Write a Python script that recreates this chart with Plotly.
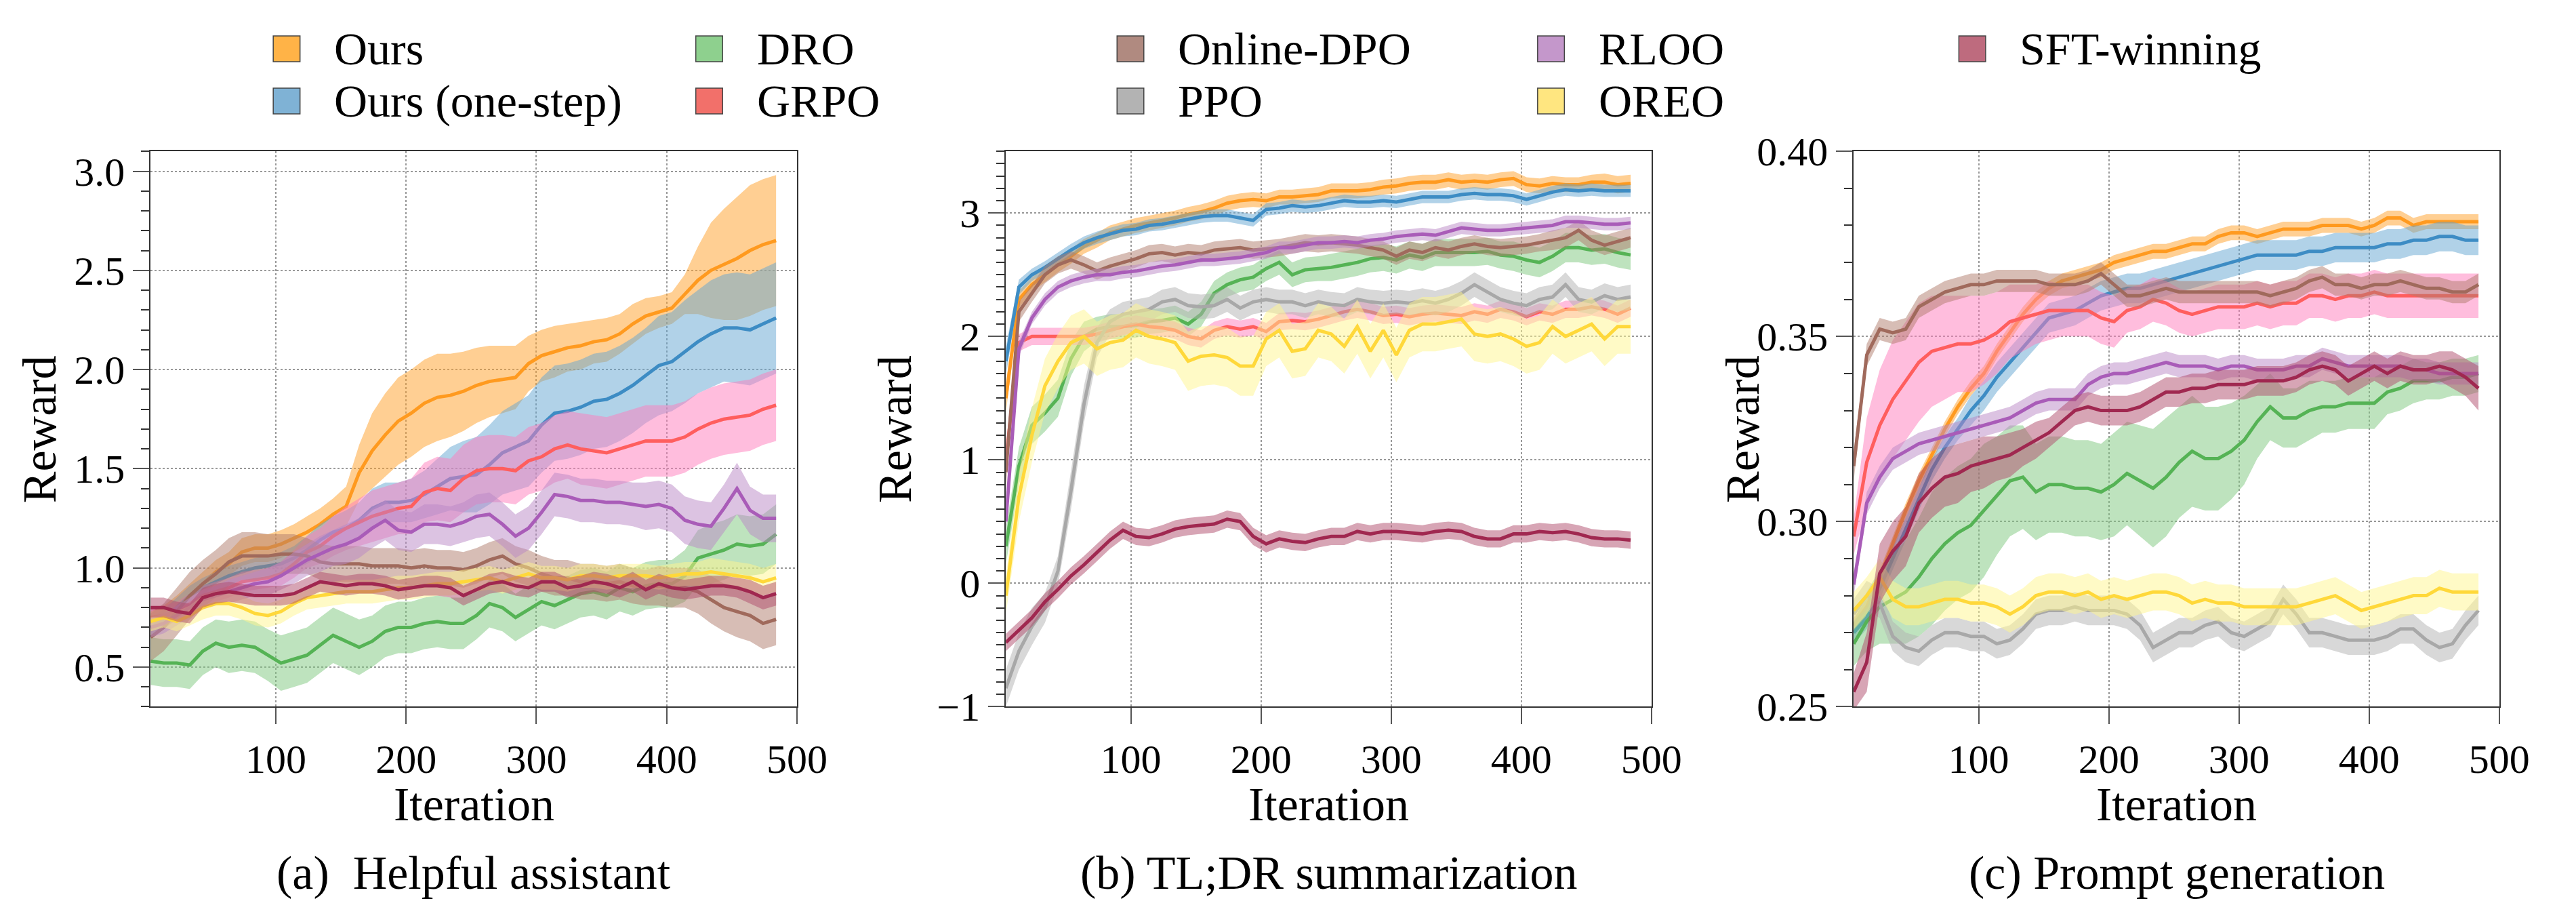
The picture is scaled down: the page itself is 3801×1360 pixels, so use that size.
import plotly.graph_objects as go

# ---------------- data ----------------
ITER = [4, 14, 24, 34, 44, 54, 64, 74, 84, 94,
        104, 114, 124, 134, 144, 154, 164, 174, 184, 194,
        204, 214, 224, 234, 244, 254, 264, 274, 284, 294,
        304, 314, 324, 334, 344, 354, 364, 374, 384, 394,
        404, 414, 424, 434, 444, 454, 464, 474, 484]

SERIES = ["Ours", "Ours (one-step)", "DRO", "GRPO", "Online-DPO", "PPO", "RLOO", "OREO", "SFT-winning"]

# ---- (a) Helpful assistant ----
A_OURS = [0.72, 0.75, 0.80, 0.86, 0.92, 0.98, 1.02, 1.08, 1.10, 1.10,
          1.12, 1.15, 1.18, 1.22, 1.27, 1.31, 1.48, 1.59, 1.67, 1.74,
          1.78, 1.83, 1.86, 1.87, 1.89, 1.92, 1.94, 1.95, 1.96, 2.03,
          2.07, 2.09, 2.11, 2.12, 2.14, 2.15, 2.18, 2.23, 2.27, 2.29,
          2.31, 2.38, 2.45, 2.50, 2.53, 2.56, 2.60, 2.63, 2.65]
A_OURS_SD = [0.06, 0.06, 0.06, 0.06, 0.06, 0.06, 0.06, 0.07, 0.07, 0.07,
             0.07, 0.07, 0.08, 0.08, 0.08, 0.10, 0.14, 0.19, 0.21, 0.22,
             0.22, 0.22, 0.22, 0.21, 0.20, 0.19, 0.18, 0.17, 0.16, 0.14,
             0.13, 0.13, 0.12, 0.12, 0.11, 0.11, 0.10, 0.10, 0.09, 0.08,
             0.08, 0.10, 0.17, 0.24, 0.28, 0.31, 0.33, 0.33, 0.33]
A_ONE = [0.70, 0.74, 0.80, 0.86, 0.90, 0.93, 0.96, 0.98, 1.00, 1.01,
         1.02, 1.05, 1.09, 1.14, 1.18, 1.20, 1.24, 1.30, 1.33, 1.33,
         1.34, 1.37, 1.41, 1.45, 1.46, 1.47, 1.52, 1.58, 1.61, 1.64,
         1.72, 1.78, 1.79, 1.81, 1.84, 1.85, 1.88, 1.92, 1.97, 2.02,
         2.04, 2.09, 2.14, 2.18, 2.21, 2.21, 2.20, 2.23, 2.26]
A_ONE_SD = [0.05, 0.05, 0.05, 0.05, 0.05, 0.05, 0.05, 0.05, 0.05, 0.05,
            0.06, 0.06, 0.07, 0.08, 0.08, 0.09, 0.09, 0.10, 0.10, 0.10,
            0.11, 0.12, 0.14, 0.16, 0.18, 0.19, 0.20, 0.21, 0.22, 0.23,
            0.24, 0.24, 0.24, 0.24, 0.24, 0.24, 0.24, 0.24, 0.24, 0.25,
            0.25, 0.26, 0.26, 0.27, 0.27, 0.28, 0.28, 0.28, 0.28]
A_DRO = [0.53, 0.52, 0.52, 0.51, 0.58, 0.62, 0.60, 0.61, 0.60, 0.56,
         0.52, 0.54, 0.56, 0.61, 0.66, 0.63, 0.60, 0.63, 0.68, 0.70,
         0.70, 0.72, 0.73, 0.72, 0.72, 0.76, 0.82, 0.80, 0.75, 0.79,
         0.83, 0.81, 0.84, 0.87, 0.88, 0.86, 0.90, 0.88, 0.91, 0.92,
         0.92, 0.96, 1.05, 1.07, 1.09, 1.12, 1.11, 1.12, 1.17]
A_DRO_SD = [0.12, 0.12, 0.12, 0.12, 0.12, 0.12, 0.13, 0.13, 0.13, 0.13,
            0.14, 0.14, 0.14, 0.14, 0.14, 0.14, 0.14, 0.13, 0.13, 0.13,
            0.13, 0.13, 0.13, 0.13, 0.13, 0.12, 0.12, 0.12, 0.12, 0.12,
            0.12, 0.12, 0.12, 0.12, 0.12, 0.12, 0.12, 0.12, 0.12, 0.12,
            0.12, 0.13, 0.14, 0.15, 0.15, 0.15, 0.15, 0.15, 0.15]
A_GRPO = [0.75, 0.76, 0.78, 0.82, 0.86, 0.88, 0.90, 0.93, 0.94, 0.95,
          0.97, 1.02, 1.08, 1.11, 1.16, 1.20, 1.23, 1.26, 1.28, 1.30,
          1.31, 1.38, 1.40, 1.39, 1.45, 1.49, 1.50, 1.50, 1.49, 1.54,
          1.56, 1.60, 1.62, 1.60, 1.59, 1.58, 1.60, 1.62, 1.64, 1.64,
          1.64, 1.66, 1.70, 1.73, 1.75, 1.76, 1.77, 1.80, 1.82]
A_GRPO_SD = [0.05, 0.05, 0.05, 0.05, 0.05, 0.05, 0.05, 0.05, 0.05, 0.05,
             0.06, 0.07, 0.08, 0.09, 0.10, 0.11, 0.12, 0.13, 0.13, 0.13,
             0.14, 0.15, 0.16, 0.16, 0.17, 0.17, 0.17, 0.17, 0.17, 0.17,
             0.17, 0.17, 0.17, 0.18, 0.18, 0.18, 0.18, 0.18, 0.18, 0.18,
             0.18, 0.18, 0.18, 0.18, 0.18, 0.18, 0.18, 0.18, 0.18]
A_DPO = [0.65, 0.70, 0.78, 0.86, 0.92, 0.97, 1.03, 1.06, 1.06, 1.06,
         1.07, 1.07, 1.06, 1.03, 1.02, 1.02, 1.02, 1.01, 1.01, 1.01,
         1.00, 1.01, 1.00, 1.00, 0.99, 1.01, 1.04, 1.06, 1.02, 1.00,
         0.97, 0.95, 0.95, 0.93, 0.93, 0.92, 0.93, 0.91, 0.90, 0.91,
         0.90, 0.90, 0.88, 0.84, 0.80, 0.78, 0.76, 0.72, 0.74]
A_DPO_SD = [0.12, 0.12, 0.12, 0.12, 0.12, 0.12, 0.12, 0.12, 0.12, 0.11,
            0.10, 0.10, 0.09, 0.09, 0.09, 0.09, 0.09, 0.09, 0.09, 0.09,
            0.09, 0.09, 0.09, 0.09, 0.09, 0.09, 0.09, 0.09, 0.09, 0.09,
            0.09, 0.09, 0.09, 0.09, 0.09, 0.09, 0.09, 0.09, 0.09, 0.10,
            0.10, 0.10, 0.11, 0.12, 0.12, 0.13, 0.13, 0.13, 0.13]
A_RLOO = [0.70, 0.72, 0.76, 0.80, 0.84, 0.86, 0.88, 0.90, 0.92, 0.93,
          0.96, 1.00, 1.04, 1.07, 1.10, 1.12, 1.15, 1.20, 1.24, 1.19,
          1.18, 1.22, 1.22, 1.21, 1.23, 1.26, 1.27, 1.22, 1.16, 1.20,
          1.28, 1.37, 1.36, 1.34, 1.34, 1.33, 1.33, 1.32, 1.31, 1.32,
          1.30, 1.24, 1.22, 1.21, 1.30, 1.40, 1.29, 1.25, 1.25]
A_RLOO_SD = [0.05, 0.05, 0.05, 0.05, 0.05, 0.05, 0.06, 0.06, 0.06, 0.07,
             0.07, 0.08, 0.08, 0.09, 0.09, 0.10, 0.10, 0.10, 0.10, 0.10,
             0.10, 0.10, 0.10, 0.10, 0.10, 0.11, 0.11, 0.11, 0.11, 0.11,
             0.11, 0.11, 0.11, 0.11, 0.11, 0.11, 0.11, 0.11, 0.12, 0.12,
             0.12, 0.12, 0.12, 0.12, 0.12, 0.13, 0.12, 0.12, 0.12]
A_OREO = [0.73, 0.75, 0.73, 0.76, 0.80, 0.82, 0.82, 0.80, 0.77, 0.76,
          0.78, 0.82, 0.85, 0.86, 0.87, 0.88, 0.88, 0.88, 0.89, 0.90,
          0.90, 0.91, 0.92, 0.92, 0.93, 0.94, 0.95, 0.93, 0.95, 0.97,
          0.95, 0.95, 0.94, 0.96, 0.96, 0.95, 0.96, 0.96, 0.96, 0.95,
          0.96, 0.97, 0.97, 0.98, 0.97, 0.96, 0.95, 0.93, 0.95]
A_OREO_SD = [0.05, 0.05, 0.05, 0.05, 0.06, 0.06, 0.06, 0.06, 0.06, 0.06,
             0.06, 0.06, 0.06, 0.06, 0.06, 0.06, 0.06, 0.06, 0.06, 0.06,
             0.06, 0.06, 0.06, 0.06, 0.06, 0.06, 0.06, 0.06, 0.06, 0.06,
             0.06, 0.06, 0.06, 0.06, 0.06, 0.06, 0.06, 0.06, 0.06, 0.06,
             0.06, 0.06, 0.06, 0.07, 0.07, 0.07, 0.07, 0.07, 0.07]
A_SFT = [0.80, 0.80, 0.78, 0.77, 0.85, 0.87, 0.88, 0.87, 0.86, 0.86,
         0.86, 0.87, 0.90, 0.93, 0.92, 0.91, 0.92, 0.92, 0.91, 0.89,
         0.90, 0.91, 0.91, 0.90, 0.86, 0.89, 0.92, 0.93, 0.91, 0.90,
         0.93, 0.93, 0.90, 0.91, 0.93, 0.92, 0.90, 0.93, 0.89, 0.92,
         0.90, 0.89, 0.90, 0.91, 0.91, 0.90, 0.88, 0.85, 0.87]
A_SFT_SD = [0.05, 0.05, 0.05, 0.05, 0.05, 0.05, 0.05, 0.05, 0.05, 0.05,
            0.05, 0.05, 0.05, 0.05, 0.05, 0.05, 0.05, 0.05, 0.05, 0.05,
            0.05, 0.05, 0.05, 0.05, 0.05, 0.05, 0.05, 0.05, 0.05, 0.05,
            0.05, 0.05, 0.05, 0.05, 0.05, 0.05, 0.05, 0.05, 0.05, 0.05,
            0.05, 0.05, 0.05, 0.05, 0.05, 0.05, 0.06, 0.06, 0.06]

# ---- (b) TL;DR summarization ----
B_OURS = [1.50, 2.30, 2.42, 2.50, 2.58, 2.65, 2.73, 2.78, 2.84, 2.87,
          2.90, 2.92, 2.94, 2.96, 2.99, 3.01, 3.04, 3.08, 3.10, 3.11,
          3.10, 3.13, 3.13, 3.14, 3.15, 3.18, 3.18, 3.18, 3.19, 3.21,
          3.22, 3.24, 3.25, 3.25, 3.27, 3.25, 3.26, 3.25, 3.27, 3.28,
          3.23, 3.22, 3.24, 3.23, 3.23, 3.25, 3.25, 3.23, 3.24]
B_OURS_SD = [0.12, 0.07, 0.06, 0.06, 0.06, 0.06, 0.06, 0.06, 0.06, 0.06,
             0.06, 0.06, 0.06, 0.06, 0.06, 0.06, 0.06, 0.06, 0.06, 0.06,
             0.06, 0.06, 0.06, 0.06, 0.06, 0.06, 0.06, 0.06, 0.06, 0.06,
             0.06, 0.06, 0.06, 0.06, 0.06, 0.06, 0.06, 0.06, 0.06, 0.06,
             0.06, 0.06, 0.06, 0.06, 0.06, 0.06, 0.07, 0.07, 0.07]
B_ONE = [1.80, 2.40, 2.50, 2.56, 2.63, 2.70, 2.76, 2.80, 2.83, 2.86,
         2.87, 2.90, 2.91, 2.93, 2.95, 2.97, 2.98, 2.98, 2.96, 2.94,
         3.03, 3.04, 3.06, 3.05, 3.06, 3.08, 3.10, 3.09, 3.09, 3.10,
         3.09, 3.11, 3.13, 3.13, 3.13, 3.15, 3.16, 3.15, 3.15, 3.14,
         3.11, 3.14, 3.17, 3.19, 3.18, 3.19, 3.18, 3.18, 3.18]
B_ONE_SD = [0.12, 0.06, 0.05, 0.05, 0.05, 0.05, 0.05, 0.05, 0.05, 0.05,
            0.05, 0.05, 0.05, 0.05, 0.05, 0.05, 0.05, 0.05, 0.05, 0.05,
            0.05, 0.05, 0.05, 0.05, 0.05, 0.05, 0.05, 0.05, 0.05, 0.05,
            0.05, 0.05, 0.05, 0.05, 0.05, 0.05, 0.05, 0.05, 0.05, 0.05,
            0.05, 0.05, 0.05, 0.05, 0.05, 0.05, 0.05, 0.05, 0.05]
B_DRO = [0.30, 0.95, 1.28, 1.38, 1.50, 1.82, 2.00, 2.06, 2.08, 2.08,
         2.09, 2.12, 2.13, 2.15, 2.10, 2.18, 2.35, 2.42, 2.46, 2.48,
         2.55, 2.60, 2.50, 2.54, 2.55, 2.56, 2.58, 2.60, 2.63, 2.64,
         2.62, 2.66, 2.64, 2.68, 2.68, 2.68, 2.68, 2.69, 2.66, 2.65,
         2.62, 2.60, 2.65, 2.72, 2.72, 2.70, 2.71, 2.68, 2.66]
B_DRO_SD = [0.15, 0.15, 0.15, 0.15, 0.15, 0.14, 0.12, 0.10, 0.10, 0.10,
            0.10, 0.10, 0.10, 0.10, 0.10, 0.10, 0.10, 0.10, 0.10, 0.10,
            0.10, 0.10, 0.10, 0.10, 0.10, 0.11, 0.11, 0.11, 0.11, 0.11,
            0.11, 0.11, 0.11, 0.11, 0.11, 0.11, 0.11, 0.11, 0.11, 0.12,
            0.12, 0.12, 0.12, 0.12, 0.12, 0.12, 0.12, 0.12, 0.12]
B_GRPO = [1.00, 1.95, 2.00, 2.00, 2.00, 2.00, 2.00, 2.02, 2.05, 2.08,
          2.10, 2.08, 2.07, 2.05, 2.00, 1.98, 2.05, 2.08, 2.06, 2.08,
          2.04, 2.12, 2.13, 2.12, 2.14, 2.17, 2.20, 2.22, 2.20, 2.17,
          2.18, 2.16, 2.18, 2.19, 2.18, 2.17, 2.20, 2.18, 2.22, 2.20,
          2.16, 2.20, 2.18, 2.22, 2.22, 2.24, 2.22, 2.18, 2.23]
B_GRPO_SD = [0.10, 0.07, 0.07, 0.07, 0.07, 0.07, 0.07, 0.07, 0.07, 0.07,
             0.07, 0.07, 0.07, 0.07, 0.07, 0.07, 0.07, 0.07, 0.07, 0.07,
             0.07, 0.07, 0.07, 0.07, 0.07, 0.07, 0.07, 0.07, 0.07, 0.07,
             0.07, 0.07, 0.07, 0.07, 0.07, 0.07, 0.07, 0.07, 0.07, 0.07,
             0.07, 0.07, 0.07, 0.07, 0.07, 0.07, 0.07, 0.07, 0.07]
B_DPO = [0.90, 2.20, 2.35, 2.50, 2.58, 2.62, 2.58, 2.53, 2.57, 2.60,
         2.63, 2.67, 2.68, 2.66, 2.68, 2.67, 2.70, 2.71, 2.72, 2.70,
         2.71, 2.72, 2.74, 2.76, 2.75, 2.76, 2.75, 2.74, 2.72, 2.70,
         2.65, 2.70, 2.68, 2.72, 2.70, 2.73, 2.75, 2.73, 2.72, 2.73,
         2.74, 2.76, 2.78, 2.80, 2.86, 2.78, 2.74, 2.77, 2.80]
B_DPO_SD = [0.15, 0.08, 0.07, 0.07, 0.07, 0.07, 0.07, 0.07, 0.07, 0.07,
            0.07, 0.07, 0.07, 0.07, 0.07, 0.07, 0.07, 0.07, 0.07, 0.07,
            0.07, 0.07, 0.07, 0.07, 0.07, 0.07, 0.07, 0.07, 0.07, 0.07,
            0.07, 0.07, 0.07, 0.07, 0.07, 0.07, 0.07, 0.07, 0.07, 0.07,
            0.07, 0.07, 0.08, 0.08, 0.08, 0.08, 0.08, 0.08, 0.08]
B_PPO = [-0.85, -0.55, -0.35, -0.20, 0.10, 0.75, 1.45, 1.95, 2.12, 2.18,
         2.20, 2.22, 2.28, 2.30, 2.25, 2.24, 2.25, 2.30, 2.23, 2.28,
         2.30, 2.28, 2.28, 2.25, 2.28, 2.26, 2.25, 2.30, 2.28, 2.27,
         2.28, 2.27, 2.29, 2.27, 2.30, 2.35, 2.42, 2.36, 2.30, 2.27,
         2.25, 2.30, 2.32, 2.42, 2.30, 2.28, 2.33, 2.30, 2.32]
B_PPO_SD = [0.15, 0.15, 0.15, 0.12, 0.12, 0.15, 0.15, 0.12, 0.10, 0.10,
            0.10, 0.10, 0.10, 0.10, 0.10, 0.10, 0.10, 0.10, 0.10, 0.10,
            0.10, 0.10, 0.10, 0.10, 0.10, 0.10, 0.10, 0.10, 0.10, 0.10,
            0.10, 0.10, 0.10, 0.10, 0.10, 0.10, 0.10, 0.10, 0.10, 0.10,
            0.10, 0.10, 0.10, 0.10, 0.10, 0.10, 0.10, 0.10, 0.10]
B_RLOO = [0.50, 1.90, 2.15, 2.30, 2.40, 2.45, 2.48, 2.50, 2.50, 2.52,
          2.53, 2.55, 2.57, 2.58, 2.60, 2.62, 2.62, 2.63, 2.64, 2.66,
          2.68, 2.72, 2.72, 2.74, 2.76, 2.76, 2.77, 2.76, 2.78, 2.79,
          2.81, 2.82, 2.83, 2.82, 2.85, 2.88, 2.87, 2.86, 2.86, 2.87,
          2.88, 2.89, 2.90, 2.93, 2.93, 2.92, 2.91, 2.91, 2.92]
B_RLOO_SD = [0.10, 0.06, 0.05, 0.05, 0.05, 0.05, 0.05, 0.05, 0.05, 0.05,
             0.05, 0.05, 0.05, 0.05, 0.05, 0.05, 0.05, 0.05, 0.05, 0.05,
             0.05, 0.05, 0.05, 0.05, 0.05, 0.05, 0.05, 0.05, 0.05, 0.05,
             0.05, 0.05, 0.05, 0.05, 0.05, 0.05, 0.05, 0.05, 0.05, 0.05,
             0.05, 0.05, 0.05, 0.05, 0.05, 0.05, 0.05, 0.05, 0.05]
B_OREO = [-0.10, 0.70, 1.20, 1.60, 1.80, 1.95, 2.00, 1.90, 1.95, 1.97,
          2.05, 2.00, 1.98, 1.95, 1.80, 1.84, 1.85, 1.83, 1.76, 1.76,
          1.98, 2.05, 1.88, 1.90, 2.05, 2.02, 1.92, 2.08, 1.88, 2.05,
          1.85, 2.05, 2.10, 2.10, 2.12, 2.14, 2.02, 2.00, 2.02, 1.98,
          1.92, 1.95, 2.08, 2.00, 2.05, 2.10, 1.98, 2.08, 2.08]
B_OREO_SD = [0.15, 0.20, 0.22, 0.22, 0.22, 0.22, 0.22, 0.22, 0.22, 0.22,
             0.22, 0.22, 0.22, 0.22, 0.24, 0.24, 0.24, 0.24, 0.24, 0.24,
             0.22, 0.22, 0.22, 0.22, 0.22, 0.22, 0.22, 0.22, 0.22, 0.22,
             0.22, 0.22, 0.22, 0.22, 0.22, 0.22, 0.22, 0.22, 0.22, 0.22,
             0.22, 0.22, 0.22, 0.22, 0.22, 0.22, 0.22, 0.22, 0.22]
B_SFT = [-0.48, -0.38, -0.28, -0.15, -0.05, 0.06, 0.15, 0.25, 0.35, 0.43,
         0.38, 0.37, 0.40, 0.44, 0.46, 0.47, 0.48, 0.52, 0.50, 0.38,
         0.32, 0.36, 0.34, 0.33, 0.36, 0.38, 0.38, 0.42, 0.40, 0.42,
         0.42, 0.41, 0.40, 0.42, 0.43, 0.42, 0.38, 0.36, 0.36, 0.40,
         0.40, 0.42, 0.41, 0.42, 0.40, 0.37, 0.36, 0.36, 0.35]
B_SFT_SD = [0.07, 0.07, 0.07, 0.07, 0.07, 0.07, 0.07, 0.07, 0.07, 0.07,
            0.07, 0.07, 0.07, 0.07, 0.07, 0.07, 0.07, 0.07, 0.07, 0.07,
            0.07, 0.07, 0.07, 0.07, 0.07, 0.07, 0.07, 0.07, 0.07, 0.07,
            0.07, 0.07, 0.07, 0.07, 0.07, 0.07, 0.07, 0.07, 0.07, 0.07,
            0.07, 0.07, 0.07, 0.07, 0.07, 0.07, 0.07, 0.07, 0.07]

# ---- (c) Prompt generation ----
C_OURS = [0.272, 0.277, 0.285, 0.294, 0.303, 0.311, 0.318, 0.325, 0.331, 0.336,
          0.340, 0.346, 0.351, 0.356, 0.360, 0.363, 0.365, 0.366, 0.367, 0.368,
          0.370, 0.371, 0.372, 0.373, 0.373, 0.374, 0.375, 0.375, 0.377, 0.378,
          0.378, 0.377, 0.378, 0.379, 0.379, 0.379, 0.380, 0.380, 0.380, 0.379,
          0.380, 0.382, 0.382, 0.380, 0.381, 0.381, 0.381, 0.381, 0.381]
C_OURS_SD = [0.002, 0.002, 0.002, 0.002, 0.002, 0.002, 0.002, 0.002, 0.002, 0.002,
             0.002, 0.002, 0.002, 0.002, 0.002, 0.002, 0.002, 0.002, 0.002, 0.002,
             0.002, 0.002, 0.002, 0.002, 0.002, 0.002, 0.002, 0.002, 0.002, 0.002,
             0.002, 0.002, 0.002, 0.002, 0.002, 0.002, 0.002, 0.002, 0.002, 0.002,
             0.002, 0.002, 0.002, 0.002, 0.002, 0.002, 0.002, 0.002, 0.002]
C_ONE = [0.270, 0.274, 0.282, 0.290, 0.298, 0.306, 0.314, 0.320, 0.325, 0.330,
         0.334, 0.339, 0.343, 0.347, 0.351, 0.355, 0.356, 0.357, 0.359, 0.361,
         0.362, 0.363, 0.363, 0.364, 0.365, 0.366, 0.367, 0.368, 0.369, 0.370,
         0.371, 0.372, 0.372, 0.372, 0.372, 0.373, 0.373, 0.374, 0.374, 0.374,
         0.374, 0.375, 0.375, 0.376, 0.376, 0.377, 0.377, 0.376, 0.376]
C_ONE_SD = [0.003, 0.003, 0.003, 0.003, 0.003, 0.003, 0.003, 0.003, 0.003, 0.004,
            0.004, 0.004, 0.004, 0.004, 0.004, 0.004, 0.004, 0.004, 0.004, 0.004,
            0.004, 0.004, 0.004, 0.004, 0.004, 0.004, 0.004, 0.004, 0.004, 0.004,
            0.004, 0.004, 0.004, 0.004, 0.004, 0.004, 0.004, 0.004, 0.004, 0.004,
            0.004, 0.004, 0.004, 0.004, 0.004, 0.004, 0.004, 0.004, 0.004]
C_DRO = [0.267, 0.273, 0.277, 0.279, 0.281, 0.285, 0.290, 0.294, 0.297, 0.299,
         0.303, 0.307, 0.311, 0.312, 0.308, 0.310, 0.310, 0.309, 0.309, 0.308,
         0.310, 0.313, 0.311, 0.309, 0.312, 0.316, 0.319, 0.317, 0.317, 0.319,
         0.322, 0.327, 0.331, 0.328, 0.328, 0.330, 0.331, 0.331, 0.332, 0.332,
         0.332, 0.335, 0.336, 0.338, 0.338, 0.338, 0.339, 0.339, 0.340]
C_DRO_SD = [0.006, 0.008, 0.010, 0.012, 0.014, 0.016, 0.018, 0.018, 0.018, 0.018,
            0.018, 0.016, 0.015, 0.014, 0.013, 0.013, 0.013, 0.013, 0.013, 0.013,
            0.014, 0.014, 0.015, 0.016, 0.016, 0.015, 0.015, 0.014, 0.014, 0.013,
            0.012, 0.010, 0.009, 0.008, 0.008, 0.008, 0.007, 0.007, 0.007, 0.007,
            0.007, 0.006, 0.006, 0.006, 0.005, 0.005, 0.005, 0.005, 0.005]
C_GRPO = [0.296, 0.316, 0.326, 0.333, 0.338, 0.343, 0.346, 0.347, 0.348, 0.348,
          0.349, 0.351, 0.354, 0.355, 0.356, 0.357, 0.357, 0.357, 0.357, 0.355,
          0.354, 0.357, 0.358, 0.360, 0.359, 0.357, 0.356, 0.357, 0.358, 0.358,
          0.358, 0.359, 0.358, 0.359, 0.359, 0.361, 0.361, 0.360, 0.361, 0.361,
          0.362, 0.361, 0.361, 0.361, 0.361, 0.361, 0.361, 0.361, 0.361]
C_GRPO_SD = [0.005, 0.012, 0.015, 0.016, 0.016, 0.016, 0.015, 0.014, 0.013, 0.013,
             0.012, 0.011, 0.010, 0.009, 0.008, 0.008, 0.007, 0.007, 0.007, 0.007,
             0.007, 0.006, 0.006, 0.006, 0.006, 0.006, 0.006, 0.006, 0.006, 0.006,
             0.006, 0.006, 0.006, 0.006, 0.006, 0.006, 0.006, 0.006, 0.006, 0.006,
             0.006, 0.006, 0.006, 0.006, 0.006, 0.006, 0.006, 0.006, 0.006]
C_DPO = [0.315, 0.345, 0.352, 0.351, 0.352, 0.358, 0.360, 0.362, 0.363, 0.364,
         0.364, 0.365, 0.365, 0.365, 0.365, 0.364, 0.364, 0.364, 0.365, 0.367,
         0.364, 0.361, 0.361, 0.362, 0.363, 0.362, 0.362, 0.362, 0.362, 0.362,
         0.362, 0.362, 0.361, 0.362, 0.363, 0.365, 0.366, 0.364, 0.364, 0.363,
         0.364, 0.364, 0.365, 0.364, 0.363, 0.363, 0.362, 0.362, 0.364]
C_DPO_SD = [0.004, 0.003, 0.003, 0.003, 0.003, 0.003, 0.003, 0.003, 0.003, 0.003,
            0.003, 0.003, 0.003, 0.003, 0.003, 0.003, 0.003, 0.003, 0.003, 0.003,
            0.003, 0.003, 0.003, 0.003, 0.003, 0.003, 0.003, 0.003, 0.003, 0.003,
            0.003, 0.003, 0.003, 0.003, 0.003, 0.003, 0.003, 0.003, 0.003, 0.003,
            0.003, 0.003, 0.003, 0.003, 0.003, 0.003, 0.003, 0.003, 0.003]
C_PPO = [0.275, 0.280, 0.278, 0.269, 0.266, 0.265, 0.268, 0.270, 0.270, 0.269,
         0.269, 0.267, 0.268, 0.271, 0.275, 0.276, 0.276, 0.277, 0.276, 0.276,
         0.276, 0.275, 0.272, 0.266, 0.268, 0.270, 0.270, 0.272, 0.273, 0.270,
         0.269, 0.271, 0.273, 0.279, 0.275, 0.270, 0.270, 0.269, 0.268, 0.268,
         0.268, 0.269, 0.271, 0.271, 0.268, 0.266, 0.267, 0.272, 0.276]
C_PPO_SD = [0.004, 0.004, 0.004, 0.004, 0.004, 0.004, 0.004, 0.004, 0.004, 0.004,
            0.004, 0.004, 0.004, 0.004, 0.004, 0.004, 0.004, 0.004, 0.004, 0.004,
            0.004, 0.004, 0.004, 0.004, 0.004, 0.004, 0.004, 0.004, 0.004, 0.004,
            0.004, 0.004, 0.004, 0.004, 0.004, 0.004, 0.004, 0.004, 0.004, 0.004,
            0.004, 0.004, 0.004, 0.004, 0.004, 0.004, 0.004, 0.004, 0.004]
C_RLOO = [0.283, 0.305, 0.312, 0.317, 0.319, 0.321, 0.322, 0.323, 0.324, 0.325,
          0.326, 0.327, 0.328, 0.330, 0.332, 0.333, 0.333, 0.333, 0.337, 0.339,
          0.340, 0.340, 0.341, 0.342, 0.343, 0.342, 0.342, 0.342, 0.341, 0.342,
          0.342, 0.341, 0.341, 0.341, 0.342, 0.342, 0.344, 0.343, 0.342, 0.342,
          0.342, 0.342, 0.342, 0.341, 0.341, 0.340, 0.340, 0.340, 0.340]
C_RLOO_SD = [0.003, 0.003, 0.003, 0.003, 0.003, 0.003, 0.003, 0.003, 0.003, 0.003,
             0.003, 0.003, 0.003, 0.003, 0.003, 0.003, 0.003, 0.003, 0.003, 0.003,
             0.003, 0.003, 0.003, 0.003, 0.003, 0.003, 0.003, 0.003, 0.003, 0.003,
             0.003, 0.003, 0.003, 0.003, 0.003, 0.003, 0.003, 0.003, 0.003, 0.003,
             0.003, 0.003, 0.003, 0.003, 0.003, 0.003, 0.003, 0.003, 0.003]
C_OREO = [0.276, 0.280, 0.285, 0.279, 0.277, 0.277, 0.278, 0.279, 0.279, 0.278,
          0.278, 0.277, 0.275, 0.277, 0.280, 0.281, 0.281, 0.280, 0.281, 0.279,
          0.280, 0.279, 0.280, 0.281, 0.281, 0.280, 0.278, 0.279, 0.278, 0.278,
          0.277, 0.277, 0.277, 0.277, 0.277, 0.278, 0.279, 0.280, 0.278, 0.276,
          0.277, 0.278, 0.279, 0.280, 0.280, 0.282, 0.281, 0.281, 0.281]
C_OREO_SD = [0.005, 0.005, 0.005, 0.005, 0.005, 0.005, 0.005, 0.005, 0.005, 0.005,
             0.005, 0.005, 0.005, 0.005, 0.005, 0.005, 0.005, 0.005, 0.005, 0.005,
             0.005, 0.005, 0.005, 0.005, 0.005, 0.005, 0.005, 0.005, 0.005, 0.005,
             0.005, 0.005, 0.005, 0.005, 0.005, 0.005, 0.005, 0.005, 0.005, 0.005,
             0.005, 0.005, 0.005, 0.005, 0.005, 0.005, 0.005, 0.005, 0.005]
C_SFT = [0.254, 0.262, 0.286, 0.292, 0.296, 0.305, 0.309, 0.312, 0.313, 0.315,
         0.316, 0.317, 0.318, 0.320, 0.322, 0.324, 0.327, 0.330, 0.331, 0.330,
         0.330, 0.330, 0.331, 0.333, 0.335, 0.335, 0.336, 0.336, 0.337, 0.337,
         0.337, 0.338, 0.338, 0.338, 0.339, 0.341, 0.342, 0.341, 0.338, 0.340,
         0.342, 0.340, 0.342, 0.341, 0.341, 0.342, 0.341, 0.339, 0.336]
C_SFT_SD = [0.005, 0.008, 0.008, 0.008, 0.008, 0.008, 0.008, 0.008, 0.008, 0.007,
            0.007, 0.006, 0.006, 0.005, 0.005, 0.004, 0.004, 0.004, 0.004, 0.004,
            0.004, 0.004, 0.004, 0.004, 0.004, 0.004, 0.004, 0.004, 0.004, 0.004,
            0.004, 0.004, 0.004, 0.004, 0.004, 0.004, 0.004, 0.004, 0.004, 0.004,
            0.004, 0.004, 0.004, 0.004, 0.004, 0.004, 0.005, 0.005, 0.006]

PANEL_A = {"Ours": (A_OURS, A_OURS_SD), "Ours (one-step)": (A_ONE, A_ONE_SD), "DRO": (A_DRO, A_DRO_SD),
           "GRPO": (A_GRPO, A_GRPO_SD), "Online-DPO": (A_DPO, A_DPO_SD), "RLOO": (A_RLOO, A_RLOO_SD),
           "OREO": (A_OREO, A_OREO_SD), "SFT-winning": (A_SFT, A_SFT_SD)}
PANEL_B = {"Ours": (B_OURS, B_OURS_SD), "Ours (one-step)": (B_ONE, B_ONE_SD), "DRO": (B_DRO, B_DRO_SD),
           "GRPO": (B_GRPO, B_GRPO_SD), "Online-DPO": (B_DPO, B_DPO_SD), "PPO": (B_PPO, B_PPO_SD),
           "RLOO": (B_RLOO, B_RLOO_SD), "OREO": (B_OREO, B_OREO_SD), "SFT-winning": (B_SFT, B_SFT_SD)}
PANEL_C = {"Ours": (C_OURS, C_OURS_SD), "Ours (one-step)": (C_ONE, C_ONE_SD), "DRO": (C_DRO, C_DRO_SD),
           "GRPO": (C_GRPO, C_GRPO_SD), "Online-DPO": (C_DPO, C_DPO_SD), "PPO": (C_PPO, C_PPO_SD),
           "RLOO": (C_RLOO, C_RLOO_SD), "OREO": (C_OREO, C_OREO_SD), "SFT-winning": (C_SFT, C_SFT_SD)}

CAPTIONS = ["(a)\u00a0\u00a0Helpful assistant", "(b) TL;DR summarization", "(c) Prompt generation"]
X_TICKS = [100, 200, 300, 400, 500]

# ---------------- style ----------------
LINE_COLORS = {"Ours": "#FF9A1F", "Ours (one-step)": "#3D8CC4", "DRO": "#55B355", "GRPO": "#FF5E5E",
               "Online-DPO": "#A06A5C", "PPO": "#A8A8A8", "RLOO": "#A95CB8", "OREO": "#FFD83A",
               "SFT-winning": "#A02850"}
BAND_COLORS = {"Ours": "rgba(255,160,40,0.5)", "Ours (one-step)": "rgba(100,165,210,0.5)",
               "DRO": "rgba(125,200,125,0.5)", "GRPO": "rgba(255,123,187,0.5)",
               "Online-DPO": "rgba(175,123,107,0.5)", "PPO": "rgba(178,178,178,0.5)",
               "RLOO": "rgba(185,135,197,0.5)", "OREO": "rgba(255,245,141,0.5)",
               "SFT-winning": "rgba(175,75,107,0.5)"}
LEGEND_COLORS = {"Ours": "#FFB347", "Ours (one-step)": "#7FB2D5", "DRO": "#8ED08E", "GRPO": "#F2706A",
                 "Online-DPO": "#B08A80", "PPO": "#B3B3B3", "RLOO": "#C497CB", "OREO": "#FFE680",
                 "SFT-winning": "#BE6B7E"}

W, H = 3801, 1360
FONT = "'Liberation Serif', 'Times New Roman', Times, 'DejaVu Serif', serif"


def px(X):
    return X / W


def py(Y):
    return 1 - Y / H


X_DOMAINS = [(225, 1190), (1502, 2466), (2768, 3732)]
Y_TOP, Y_BOT = 201, 1062
Y_RANGES = [(0.3, 3.1), (-1.0, 3.5), (0.25, 0.40)]
Y_DTICK = [0.5, 1.0, 0.05]
Y_MINOR = [0.1, 0.1, 0.01]
Y_FORMAT = [".1f", "d", ".2f"]

fig = go.Figure()
panels = [PANEL_A, PANEL_B, PANEL_C]
for i, pdata in enumerate(panels):
    xa = "x" if i == 0 else f"x{i+1}"
    ya = "y" if i == 0 else f"y{i+1}"
    for name in SERIES:
        if name not in pdata:
            continue
        mean, sd = pdata[name]
        n = min(len(ITER), len(mean), len(sd))
        xs = ITER[:n]
        upper = [m + s for m, s in zip(mean[:n], sd[:n])]
        lower = [m - s for m, s in zip(mean[:n], sd[:n])]
        fig.add_trace(go.Scatter(x=xs + xs[::-1], y=upper + lower[::-1], fill="toself",
                                 fillcolor=BAND_COLORS[name], line=dict(width=0), mode="lines",
                                 hoverinfo="skip", showlegend=False, xaxis=xa, yaxis=ya))
        fig.add_trace(go.Scatter(x=xs, y=mean[:n], mode="lines", name=name,
                                 line=dict(color=LINE_COLORS[name], width=5),
                                 showlegend=False, xaxis=xa, yaxis=ya))

layout = dict(width=W, height=H, autosize=False, margin=dict(l=0, r=0, t=0, b=0, pad=0),
              plot_bgcolor="white", paper_bgcolor="white", showlegend=False,
              font=dict(family=FONT, color="black"))
for i in range(3):
    xk = "xaxis" if i == 0 else f"xaxis{i+1}"
    yk = "yaxis" if i == 0 else f"yaxis{i+1}"
    x0, x1 = X_DOMAINS[i]
    layout[xk] = dict(domain=[px(x0), px(x1)], anchor="y" if i == 0 else f"y{i+1}",
                      range=[4, 500], tickmode="array", tickvals=X_TICKS,
                      ticks="outside", ticklen=24, tickwidth=2, tickcolor="#555",
                      showline=True, linecolor="#333", linewidth=2, mirror=True,
                      showgrid=True, gridcolor="#999", griddash="dot", gridwidth=2,
                      zeroline=False, tickfont=dict(family=FONT, size=60, color="black"))
    layout[yk] = dict(domain=[py(Y_BOT), py(Y_TOP)], anchor="x" if i == 0 else f"x{i+1}",
                      range=list(Y_RANGES[i]), tickmode="linear", tick0=0, dtick=Y_DTICK[i],
                      tickformat=Y_FORMAT[i],
                      ticks="outside", ticklen=24, tickwidth=2, tickcolor="#555",
                      minor=dict(ticks="outside", ticklen=12, tickwidth=2, tickcolor="#333",
                                 tickmode="linear", tick0=0, dtick=Y_MINOR[i], showgrid=False),
                      showline=True, linecolor="#333", linewidth=2, mirror=True,
                      showgrid=True, gridcolor="#999", griddash="dot", gridwidth=2,
                      zeroline=False, tickfont=dict(family=FONT, size=60, color="black"))
fig.update_layout(**layout)

ann = []
shapes = []
for i in range(3):
    x0, x1 = X_DOMAINS[i]
    cx = (x0 + x1) / 2
    ann.append(dict(text="Reward", x=px(x0 - 165), y=py((Y_TOP + Y_BOT) / 2), xref="paper", yref="paper",
                    textangle=-90, showarrow=False, xanchor="center", yanchor="middle",
                    font=dict(family=FONT, size=70, color="black")))
    ann.append(dict(text="Iteration", x=px(cx), y=py(1213), xref="paper", yref="paper",
                    showarrow=False, xanchor="center", yanchor="middle",
                    font=dict(family=FONT, size=70, color="black")))
    ann.append(dict(text=CAPTIONS[i], x=px(cx), y=py(1320), xref="paper", yref="paper",
                    showarrow=False, xanchor="center", yanchor="middle",
                    font=dict(family=FONT, size=70, color="black")))

# legend (column-major, 5 columns x 2 rows)
LEG_COLS = [408, 1039, 1668, 2296, 2925]
LEG_ROWS = [42, 123]
for k, name in enumerate(SERIES):
    col, row = k // 2, k % 2
    lx = LEG_COLS[col]
    ly = LEG_ROWS[row]
    shapes.append(dict(type="rect", xref="paper", yref="paper",
                       x0=px(lx), x1=px(lx + 40), y0=py(ly - 20), y1=py(ly + 20),
                       fillcolor=LEGEND_COLORS[name], line=dict(color="#444", width=1.5)))
    ann.append(dict(text=name, x=px(lx + 89), y=py(ly), xref="paper", yref="paper",
                    showarrow=False, xanchor="left", yanchor="middle",
                    font=dict(family=FONT, size=68, color="black")))

fig.update_layout(annotations=ann, shapes=shapes)
fig.write_html("out.html")
